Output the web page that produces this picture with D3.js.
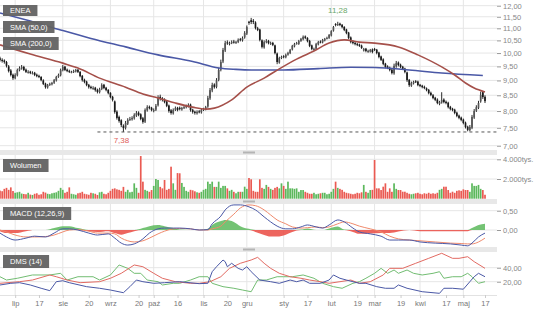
<!DOCTYPE html>
<html>
<head>
<meta charset="utf-8">
<script src="https://cdnjs.cloudflare.com/ajax/libs/d3/7.8.5/d3.min.js"></script>
<style>
  html, body { margin: 0; padding: 0; background: #fff; }
  svg { display: block; font-family: "Liberation Sans", Arial, sans-serif; }
</style>
</head>
<body>
<div class="chart-container"></div>
<script>
/* ---------- dane ---------- */
const firstDay = "2018-06-21";
const lastDay = "2019-05-17";
const holidays = ["2018-08-15", "2018-11-01", "2018-11-12", "2018-12-24", "2018-12-25", "2018-12-26",
                  "2018-12-31", "2019-01-01", "2019-04-19", "2019-04-22", "2019-05-01", "2019-05-03"];

const opens = [9.80,9.74,9.72,9.66,9.50,9.35,9.20,9.08,9.18,9.36,
9.42,9.48,9.38,9.28,9.31,9.25,9.27,9.20,9.16,9.12,
9.00,8.89,8.76,8.85,8.87,8.92,9.00,9.13,9.18,9.36,
9.49,9.38,9.34,9.29,9.30,9.32,9.38,9.30,9.16,9.02,
8.96,8.85,8.78,8.72,8.75,8.68,8.60,8.71,8.85,8.75,
8.68,8.58,8.45,8.30,7.98,7.82,7.72,7.56,7.50,7.62,
7.74,7.75,7.78,7.86,7.95,7.90,7.78,7.68,8.02,8.13,
8.10,8.00,8.04,8.18,8.45,8.40,8.36,8.30,8.17,8.02,
7.93,8.04,8.10,8.10,8.05,8.10,8.12,8.15,8.20,8.04,
7.98,7.93,7.99,7.96,8.04,8.06,8.14,8.40,8.66,8.86,
8.78,9.02,9.38,9.68,10.10,10.42,10.36,10.40,10.45,10.41,
10.44,10.55,10.50,10.62,10.78,11.28,11.35,11.32,11.25,11.00,
10.95,10.50,10.22,10.44,10.48,10.37,10.40,10.30,9.98,9.64,
9.82,9.88,9.84,9.94,10.00,10.14,10.26,10.37,10.36,10.48,
10.55,10.66,10.60,10.48,10.30,10.14,10.17,10.34,10.45,10.42,
10.50,10.58,10.60,10.70,10.90,11.18,11.15,11.20,11.15,11.06,
10.95,10.82,10.62,10.45,10.40,10.36,10.33,10.29,10.10,10.17,
10.06,10.06,10.14,10.16,10.13,10.02,9.87,9.76,9.60,9.50,
9.45,9.38,9.25,9.50,9.64,9.56,9.49,9.42,9.28,9.02,
8.82,8.90,8.97,8.96,8.85,8.82,8.78,8.73,8.68,8.58,
8.50,8.42,8.36,8.22,8.27,8.36,8.29,8.26,8.13,8.07,
8.04,7.95,7.86,7.80,7.74,7.65,7.53,7.43,7.50,7.80,
8.01,8.10,8.30,8.60,8.45];

const highs = [9.86,9.80,9.76,9.70,9.55,9.40,9.24,9.25,9.42,9.50,
9.55,9.52,9.42,9.36,9.34,9.32,9.30,9.24,9.20,9.15,
9.04,8.92,8.88,8.92,8.95,9.05,9.16,9.24,9.42,9.55,
9.52,9.42,9.38,9.34,9.38,9.41,9.40,9.33,9.19,9.06,
8.99,8.88,8.82,8.80,8.78,8.72,8.75,8.90,8.88,8.78,
8.70,8.60,8.48,8.33,8.02,7.86,7.75,7.60,7.70,7.78,
7.82,7.84,7.93,8.00,7.99,7.93,7.82,8.08,8.18,8.17,
8.13,8.08,8.22,8.50,8.52,8.44,8.40,8.33,8.20,8.06,
8.08,8.14,8.13,8.14,8.13,8.16,8.20,8.24,8.23,8.07,
8.01,8.02,8.03,8.07,8.10,8.16,8.48,8.74,8.92,8.90,
9.08,9.45,9.75,10.20,10.48,10.50,10.45,10.50,10.52,10.48,
10.58,10.60,10.66,10.88,11.12,11.32,11.45,11.40,11.30,11.06,
10.98,10.54,10.50,10.55,10.52,10.45,10.44,10.33,10.02,9.86,
9.90,9.92,9.98,10.05,10.16,10.32,10.40,10.44,10.52,10.60,
10.70,10.70,10.63,10.52,10.33,10.21,10.40,10.48,10.50,10.56,
10.60,10.65,10.76,10.92,11.10,11.22,11.28,11.24,11.18,11.09,
10.98,10.85,10.66,10.50,10.44,10.40,10.37,10.33,10.20,10.20,
10.13,10.16,10.18,10.20,10.16,10.05,9.90,9.80,9.63,9.54,
9.49,9.41,9.60,9.70,9.68,9.60,9.52,9.45,9.31,9.05,
8.96,8.99,9.01,8.99,8.88,8.85,8.82,8.76,8.71,8.62,
8.54,8.45,8.40,8.32,8.60,8.40,8.33,8.29,8.16,8.10,
8.07,7.98,7.89,7.83,7.77,7.68,7.56,7.58,7.88,8.06,
8.18,8.32,8.62,8.64,8.50];

const lows = [9.68,9.64,9.60,9.46,9.28,9.14,9.02,9.04,9.14,9.32,
9.38,9.33,9.26,9.24,9.22,9.21,9.15,9.11,9.08,8.97,
8.84,8.72,8.72,8.81,8.83,8.88,8.96,9.09,9.14,9.32,
9.33,9.29,9.26,9.25,9.26,9.28,9.26,9.11,8.96,8.90,
8.80,8.72,8.70,8.68,8.62,8.56,8.56,8.67,8.70,8.63,
8.53,8.40,8.30,7.92,7.74,7.65,7.52,7.38,7.45,7.58,
7.70,7.71,7.74,7.82,7.84,7.72,7.62,7.64,7.98,8.05,
7.99,7.96,8.00,8.14,8.33,8.30,8.24,8.12,7.95,7.89,
7.89,8.00,7.99,8.02,8.01,8.06,8.08,8.11,7.98,7.92,
7.89,7.89,7.93,7.92,8.00,8.02,8.10,8.35,8.60,8.72,
8.73,8.97,9.32,9.62,10.04,10.32,10.30,10.35,10.37,10.36,
10.39,10.46,10.45,10.57,10.72,11.15,11.18,11.18,10.95,10.88,
10.46,10.18,10.17,10.38,10.34,10.32,10.27,9.95,9.58,9.60,
9.77,9.80,9.80,9.90,9.96,10.10,10.22,10.33,10.32,10.44,
10.50,10.55,10.42,10.23,10.11,10.09,10.13,10.30,10.38,10.38,
10.46,10.54,10.56,10.66,10.86,11.08,11.10,11.09,11.00,10.88,
10.75,10.55,10.38,10.34,10.30,10.27,10.24,10.16,10.06,10.03,
10.01,10.02,9.99,10.08,9.95,9.80,9.70,9.54,9.43,9.40,
9.32,9.21,9.20,9.45,9.50,9.44,9.37,9.25,8.95,8.78,
8.78,8.86,8.91,8.80,8.77,8.73,8.70,8.63,8.53,8.47,
8.37,8.31,8.21,8.18,8.23,8.24,8.21,8.08,8.02,7.99,
7.90,7.81,7.75,7.69,7.60,7.48,7.40,7.40,7.46,7.76,
7.97,8.06,8.26,8.38,8.25];

const closes = [9.74,9.70,9.66,9.52,9.33,9.19,9.08,9.19,9.37,9.44,
9.48,9.37,9.30,9.30,9.26,9.26,9.19,9.15,9.12,9.01,
8.88,8.77,8.84,8.88,8.91,9.01,9.12,9.19,9.37,9.48,
9.37,9.33,9.30,9.30,9.33,9.37,9.30,9.15,9.01,8.95,
8.84,8.77,8.74,8.74,8.67,8.61,8.70,8.84,8.74,8.67,
8.57,8.44,8.35,7.97,7.79,7.70,7.58,7.49,7.64,7.73,
7.76,7.79,7.88,7.94,7.88,7.76,7.67,8.03,8.12,8.09,
8.03,8.03,8.16,8.44,8.38,8.35,8.28,8.16,8.00,7.94,
8.03,8.09,8.03,8.06,8.09,8.12,8.16,8.19,8.03,7.97,
7.94,7.97,7.97,8.03,8.06,8.12,8.41,8.67,8.84,8.77,
9.01,9.37,9.66,10.12,10.39,10.39,10.39,10.43,10.43,10.43,
10.52,10.52,10.60,10.80,11.05,11.23,11.27,11.27,11.01,10.93,
10.52,10.24,10.43,10.47,10.39,10.39,10.32,10.00,9.66,9.81,
9.85,9.85,9.93,10.00,10.12,10.28,10.35,10.39,10.47,10.56,
10.64,10.60,10.47,10.28,10.16,10.16,10.35,10.43,10.43,10.52,
10.56,10.60,10.72,10.88,11.05,11.14,11.18,11.14,11.05,10.93,
10.80,10.60,10.43,10.39,10.35,10.32,10.28,10.20,10.16,10.08,
10.08,10.12,10.04,10.12,10.00,9.85,9.74,9.59,9.48,9.44,
9.37,9.26,9.52,9.62,9.55,9.48,9.41,9.30,9.01,8.84,
8.91,8.95,8.95,8.84,8.81,8.77,8.74,8.67,8.57,8.51,
8.41,8.35,8.25,8.28,8.35,8.28,8.25,8.12,8.06,8.03,
7.94,7.85,7.79,7.73,7.64,7.52,7.44,7.52,7.82,8.00,
8.12,8.25,8.51,8.44,8.31];

/* wolumen w tys. */
const volumes = [820,760,1000,1100,900,1150,780,600,650,700,
520,480,450,600,420,380,500,550,400,450,
700,620,500,460,550,600,650,800,1100,900,
600,700,1150,500,450,400,550,600,700,500,
450,400,600,550,500,380,650,700,500,450,
600,800,1000,1050,950,900,800,1200,700,900,
650,700,1560,1100,600,4330,1730,900,800,700,
880,1300,2000,1900,1200,1050,1900,900,1000,3250,
1560,900,2600,2580,1600,1200,800,700,900,850,
750,650,600,700,900,1000,1730,1500,1730,1200,
1200,1730,1100,1300,1300,1050,800,900,700,550,
700,700,700,1220,1000,2100,1970,800,700,700,
1970,1100,1000,1400,1200,1000,900,1100,1200,1050,
1560,1300,1000,1730,1050,1050,1000,1050,700,880,
880,700,600,500,500,600,450,500,550,600,
600,450,500,700,1000,1730,1100,1000,900,700,
600,550,500,450,500,600,550,650,1400,700,
600,880,900,3930,1050,1050,880,1220,1560,700,
1050,700,1560,1000,880,880,711,711,600,500,
450,500,550,600,500,450,550,500,600,500,
550,500,600,900,1000,1218,1218,880,600,711,
600,800,850,800,950,880,883,700,1560,1300,
1300,1400,1000,880,400];

/* wskaźniki: [numer sesji, wartość] */
const sma50 = [[0,10.32],[14,9.96],[29,9.62],[36,9.44],[46,9.08],[58,8.77],[66,8.54],[73,8.41],[81,8.25],
  [89,8.12],[95,8.06],[99,8.09],[107,8.35],[114,8.77],[122,9.08],[129,9.41],[137,9.77],[145,10.08],
  [152,10.39],[159,10.52],[166,10.43],[173,10.39],[184,10.24],[193,9.93],[204,9.48],[210,9.19],
  [215,8.91],[219,8.74],[224,8.61]];
const sma200 = [[0,11.67],[14,11.31],[28,10.93],[42,10.58],[58,10.24],[73,9.93],[89,9.68],[101,9.44],
  [109,9.39],[116,9.37],[131,9.37],[147,9.42],[162,9.47],[173,9.46],[189,9.37],[204,9.26],[223,9.17]];

const macdLine = [[0,-0.08],[3,-0.18],[7,-0.26],[12,-0.21],[16,-0.16],[21,-0.18],[25,-0.08],[29,0.03],
  [32,0.03],[36,0.00],[41,-0.08],[45,-0.13],[50,-0.10],[53,-0.21],[56,-0.34],[59,-0.39],[62,-0.36],
  [66,-0.23],[69,-0.08],[73,0.03],[76,0.05],[80,0.05],[83,0.05],[88,0.03],[92,0.00],[96,0.01],
  [98,0.16],[102,0.36],[104,0.52],[108,0.65],[111,0.65],[115,0.60],[118,0.52],[122,0.34],[125,0.21],
  [128,0.10],[132,0.03],[135,0.03],[139,0.08],[142,0.13],[146,0.08],[149,0.05],[152,0.13],[156,0.26],
  [159,0.21],[163,0.05],[166,-0.05],[171,-0.10],[176,-0.16],[180,-0.26],[184,-0.26],[189,-0.26],
  [194,-0.31],[201,-0.34],[208,-0.36],[213,-0.39],[216,-0.41],[218,-0.34],[221,-0.18],[224,-0.08]];
const macdSignal = [[0,0.00],[3,-0.05],[7,-0.13],[12,-0.18],[16,-0.18],[21,-0.17],[25,-0.13],[29,-0.05],
  [32,0.00],[36,0.01],[41,-0.03],[45,-0.08],[50,-0.08],[53,-0.10],[56,-0.21],[59,-0.28],[62,-0.31],
  [66,-0.28],[69,-0.21],[73,-0.10],[76,-0.03],[80,0.03],[83,0.04],[88,0.03],[92,0.00],[96,0.00],
  [98,0.03],[102,0.10],[104,0.21],[108,0.41],[111,0.57],[115,0.65],[118,0.63],[122,0.52],[125,0.39],
  [128,0.26],[132,0.16],[135,0.08],[139,0.05],[142,0.06],[146,0.08],[149,0.06],[152,0.08],[156,0.16],
  [159,0.21],[163,0.16],[166,0.10],[171,0.03],[176,-0.05],[180,-0.16],[184,-0.23],[189,-0.26],
  [194,-0.28],[201,-0.31],[208,-0.34],[213,-0.35],[216,-0.36],[218,-0.36],[221,-0.31],[224,-0.21]];
const macdHist = [[0,-0.03],[3,-0.08],[7,-0.08],[12,-0.03],[16,0.00],[21,0.00],[25,0.05],[29,0.10],
  [32,0.10],[36,0.05],[41,-0.03],[45,-0.05],[50,-0.03],[53,-0.08],[56,-0.12],[59,-0.08],[62,-0.03],
  [66,0.05],[69,0.10],[73,0.13],[76,0.10],[80,0.05],[83,0.01],[88,0.00],[92,0.00],[96,0.03],
  [98,0.13],[102,0.23],[104,0.26],[108,0.21],[111,0.10],[115,0.03],[118,-0.05],[122,-0.13],[125,-0.17],
  [128,-0.17],[132,-0.12],[135,-0.05],[139,0.01],[142,0.04],[146,0.00],[149,0.00],[152,0.04],[156,0.09],
  [159,0.01],[163,-0.05],[166,-0.10],[171,-0.09],[176,-0.08],[180,-0.08],[184,-0.04],[189,0.00],
  [194,-0.03],[201,-0.03],[208,-0.03],[213,-0.03],[216,-0.03],[218,0.05],[221,0.13],[224,0.16]];

const plusDI = [[0,15.3],[5,17.7],[9,18.6],[14,15.3],[19,10.6],[23,7.2],[26,20],[29,21.4],[32,18.6],
  [40,12.9],[46,10.6],[51,8.1],[57,4.3],[60,12.9],[63,22.4],[66,20],[71,17.7],[76,18.6],[83,20],
  [92,17.2],[96,17.7],[98,34.3],[100,41.4],[103,51],[104,48.6],[105,41.4],[107,46.3],[110,39.1],
  [112,36.7],[114,41.4],[116,34.3],[120,22.4],[125,20],[129,17.7],[134,22.4],[137,20],[140,22.4],
  [143,17.7],[148,17.7],[152,22.4],[154,29.6],[157,24.9],[160,22.4],[163,20],[166,17.7],[169,17.7],
  [174,12.9],[178,10.6],[182,10.6],[184,15.3],[188,10.6],[195,5.7],[203,3.4],[205,10.6],[209,10.6],
  [214,9.3],[217,20],[219,27.1],[221,32],[224,27.1]];
const minusDI = [[0,27.1],[3,22.4],[8,24.9],[15,29.6],[23,29.6],[28,32],[31,22.4],[36,27.1],[43,27.1],
  [46,22.4],[51,29.6],[55,43.9],[59,39.1],[62,32],[65,32],[68,22.4],[73,20],[75,15.3],[80,17.7],
  [83,17.7],[88,22.4],[92,27.1],[96,27.1],[98,17.7],[103,12.9],[108,10.6],[112,8.1],[116,5.7],
  [119,22.4],[123,22.4],[128,27.1],[131,27.1],[135,27.1],[140,29.6],[145,24.9],[149,17.7],[154,12.9],
  [158,10.6],[163,17.7],[166,20],[169,24.9],[173,32],[176,39.1],[179,32],[182,36.7],[184,32],
  [188,36.7],[191,32],[195,29.6],[200,32],[203,34.3],[205,24.9],[209,27.1],[213,27.1],[216,32],
  [218,27.1],[221,17.7],[224,20]];
const adx = [[0,17.7],[9,20],[15,22.4],[23,29.6],[26,27.1],[31,22.4],[37,18.6],[46,20],[51,24.9],
  [56,32],[62,43.9],[66,41.4],[71,32],[75,24.9],[81,20],[88,17.7],[92,17.7],[97,20],[102,27.1],
  [106,39.1],[111,46.3],[116,51],[119,54.8],[122,46.3],[125,39.1],[129,32],[134,27.1],[139,24.9],
  [143,22.4],[148,20],[152,17.7],[157,20],[162,22.4],[166,17.7],[171,20],[177,29.6],[180,39.1],
  [186,39.1],[192,46.3],[198,53.4],[204,60.6],[209,53.4],[212,53.4],[216,55.7],[219,48.6],[224,39.1]];

/* linia wsparcia i opisane ekstrema */
const supportValue = 7.38, supportFrom = 45;
const minMark = [57, 7.38];
const maxMark = [156, 11.28];

/* osie */
const priceTicks = [7, 7.5, 8, 8.5, 9, 9.5, 10, 10.5, 11, 11.5, 12];
const volumeTicks = [2000, 4000];
const macdTicks = [0, 0.5];
const dmsTicks = [20, 40];
const dateTicks = [["2018-07-02","lip"],["2018-07-17","17"],["2018-08-01","sie"],["2018-08-20","20"],
  ["2018-09-03","wrz"],["2018-09-20","20"],["2018-10-01","paź"],["2018-10-16","16"],["2018-11-02","lis"],
  ["2018-11-20","20"],["2018-12-03","gru"],["2019-01-02","sty"],["2019-01-17","17"],["2019-02-01","lut"],
  ["2019-02-19","19"],["2019-03-01","mar"],["2019-03-19","19"],["2019-04-01","kwi"],["2019-04-17","17"],
  ["2019-05-02","maj"],["2019-05-17","17"]];
const monthTicks = ["2018-07-02","2018-08-01","2018-09-03","2018-10-01","2018-11-02","2018-12-03",
  "2019-01-02","2019-02-01","2019-03-01","2019-04-01","2019-05-02"];

/* ---------- rysowanie ---------- */
const svg_width = 536;
const svg_height = 311;
const plot_right = 497;
const panels = {
  main: [0, 150],
  vol: [155, 199],
  macd: [204, 247],
  dms: [252, 295]
};

const parseDay = d3.timeParse("%Y-%m-%d");
const fmtDay = d3.timeFormat("%Y-%m-%d");
const dayKeys = d3.timeDay.range(parseDay(firstDay), d3.timeDay.offset(parseDay(lastDay), 1))
  .filter(d => d.getDay() !== 0 && d.getDay() !== 6)
  .map(fmtDay)
  .filter(k => !holidays.includes(k));

const days = dayKeys.map((k, i) => ({
  key: k, open: opens[i], high: highs[i], low: lows[i], close: closes[i], volume: volumes[i]
})).filter(d => d.close !== undefined);

const svg = d3.select(".chart-container").append("svg")
  .attr("width", svg_width).attr("height", svg_height);

/* skale */
const x = d3.scalePoint().domain(dayKeys).range([0, 485]);
const xi = i => x(dayKeys[i]);
const yPrice = d3.scaleLog().domain([7, 12]).range([145.7, 5.7]);
const yVol = d3.scaleLinear().domain([0, 4000]).range([198.7, 159.3]);
const yMacd = d3.scaleLinear().domain([0, 0.5]).range([230, 210.7]);
const yDms = d3.scaleLinear().domain([20, 40]).range([281.7, 267.7]);

const comma = v => d3.format(".2f")(v).replace(".", ",");
const tys = v => d3.format(",")(v).replace(/,/g, ".") + "tys.";

/* clip paths */
const defs = svg.append("defs");
Object.entries(panels).forEach(([name, [t, b]]) => {
  defs.append("clipPath").attr("id", `clip-${name}`)
    .append("rect").attr("x", 0).attr("y", t).attr("width", plot_right).attr("height", b - t);
});

/* siatka pionowa */
const grid = svg.append("g").attr("class", "grid");
Object.values(panels).forEach(([t, b]) => {
  grid.append("g").selectAll("line").data(monthTicks).join("line")
    .attr("x1", d => x(d)).attr("x2", d => x(d))
    .attr("y1", t).attr("y2", b)
    .attr("stroke", "#e6e6e6").attr("stroke-width", 1);
});

/* siatka pozioma + osie po prawej */
function rightAxis(scale, ticks, fmt, panel) {
  grid.append("g").selectAll("line").data(ticks).join("line")
    .attr("x1", 0).attr("x2", plot_right)
    .attr("y1", d => scale(d)).attr("y2", d => scale(d))
    .attr("stroke", "#e6e6e6").attr("stroke-width", 1);
  const ax = svg.append("g").attr("class", `y axis ${panel}`)
    .attr("transform", `translate(${plot_right},0)`)
    .call(d3.axisRight(scale).tickValues(ticks).tickFormat(fmt).tickSize(4).tickPadding(2));
  ax.select(".domain").remove();
  ax.selectAll("line").attr("stroke", "#999");
  ax.selectAll("text").attr("fill", "#888").style("font-size", "7.5px").style("font-family", "Liberation Sans, Arial, sans-serif");
}
rightAxis(yPrice, priceTicks, comma, "main");
rightAxis(yVol, volumeTicks, tys, "vol");
rightAxis(yMacd, macdTicks, comma, "macd");
rightAxis(yDms, dmsTicks, comma, "dms");

/* świece */
const candleGroup = svg.append("g").attr("class", "candles").attr("clip-path", "url(#clip-main)");
candleGroup.selectAll("line").data(days).join("line")
  .attr("x1", d => x(d.key)).attr("x2", d => x(d.key))
  .attr("y1", d => yPrice(d.high)).attr("y2", d => yPrice(d.low))
  .attr("stroke", "#2a2a2a").attr("stroke-width", 1);
candleGroup.selectAll("rect").data(days).join("rect")
  .attr("x", d => x(d.key) - 0.85).attr("width", 1.7)
  .attr("y", d => yPrice(Math.max(d.open, d.close)))
  .attr("height", d => Math.max(1, Math.abs(yPrice(d.open) - yPrice(d.close))))
  .attr("fill", d => d.close >= d.open ? "#555" : "#1a1a1a");

/* średnie */
const priceLine = d3.line().x(d => xi(d[0])).y(d => yPrice(d[1])).curve(d3.curveMonotoneX);
const maGroup = svg.append("g").attr("class", "ma").attr("clip-path", "url(#clip-main)");
maGroup.append("path").attr("d", priceLine(sma200))
  .attr("fill", "none").attr("stroke", "#4a58a6").attr("stroke-width", 1.6);
maGroup.append("path").attr("d", priceLine(sma50))
  .attr("fill", "none").attr("stroke", "#a5504a").attr("stroke-width", 1.6);

/* linia wsparcia */
svg.append("line")
  .attr("x1", xi(supportFrom)).attr("x2", plot_right)
  .attr("y1", yPrice(supportValue)).attr("y2", yPrice(supportValue))
  .attr("stroke", "#555").attr("stroke-width", 1).attr("stroke-dasharray", "3,3");
svg.append("text").attr("x", xi(minMark[0]) - 2).attr("y", yPrice(minMark[1]) + 11)
  .attr("text-anchor", "middle").attr("fill", "#e0605a").style("font-size", "8px")
  .text(comma(minMark[1]));
svg.append("text").attr("x", xi(maxMark[0])).attr("y", yPrice(maxMark[1]) - 9)
  .attr("text-anchor", "middle").attr("fill", "#6aa86a").style("font-size", "8px")
  .text(comma(maxMark[1]));

/* wolumen */
const volColor = d => d.close > d.open ? "#5cb85c" : (d.close < d.open ? "#ea5a52" : "#333");
svg.append("g").attr("class", "volume").attr("clip-path", "url(#clip-vol)")
  .selectAll("rect").data(days).join("rect")
  .attr("x", d => x(d.key) - 0.85).attr("width", 1.7)
  .attr("y", d => yVol(d.volume))
  .attr("height", d => yVol(0) - yVol(d.volume))
  .attr("fill", volColor);

/* MACD */
const macdGroup = svg.append("g").attr("class", "macd").attr("clip-path", "url(#clip-macd)");
const histArea = sign => d3.area().x(d => xi(d[0])).y0(yMacd(0))
  .y1(d => yMacd(sign > 0 ? Math.max(0, d[1]) : Math.min(0, d[1]))).curve(d3.curveMonotoneX);
macdGroup.append("path").attr("d", histArea(1)(macdHist)).attr("fill", "#5cb85c").attr("opacity", 0.85);
macdGroup.append("path").attr("d", histArea(-1)(macdHist)).attr("fill", "#ea4a42").attr("opacity", 0.85);
const macdGen = d3.line().x(d => xi(d[0])).y(d => yMacd(d[1])).curve(d3.curveMonotoneX);
macdGroup.append("path").attr("d", macdGen(macdSignal))
  .attr("fill", "none").attr("stroke", "#f08a6c").attr("stroke-width", 1);
macdGroup.append("path").attr("d", macdGen(macdLine))
  .attr("fill", "none").attr("stroke", "#4a58a6").attr("stroke-width", 1);

/* DMS */
const dmsGroup = svg.append("g").attr("class", "dms").attr("clip-path", "url(#clip-dms)");
const dmsGen = d3.line().x(d => xi(d[0])).y(d => yDms(d[1]));
[[minusDI, "#72bd72"], [adx, "#e26a62"], [plusDI, "#4a58a6"]].forEach(([s, c]) => {
  dmsGroup.append("path").attr("d", dmsGen(s))
    .attr("fill", "none").attr("stroke", c).attr("stroke-width", 1);
});

/* separatory paneli */
const seps = [[150, 155], [199, 204], [247, 252]];
seps.forEach(([t, b]) => {
  svg.append("rect").attr("x", 0).attr("y", t).attr("width", plot_right).attr("height", b - t)
    .attr("fill", "#e8e8e8");
  svg.append("rect").attr("x", 243).attr("y", t + 1.5).attr("width", 12).attr("height", 2)
    .attr("fill", "#b4b4b4");
});
svg.append("line").attr("x1", 0).attr("x2", plot_right).attr("y1", 295.5).attr("y2", 295.5)
  .attr("stroke", "#e2e2e2");

/* oś X */
const xAxis = svg.append("g").attr("class", "x axis")
  .attr("transform", `translate(0,${panels.dms[1]})`)
  .call(d3.axisBottom(x).tickValues(dateTicks.map(d => d[0]))
    .tickFormat(k => dateTicks.find(d => d[0] === k)[1]).tickSize(3).tickPadding(3));
xAxis.select(".domain").remove();
xAxis.selectAll("line").attr("stroke", "#ccc");
xAxis.selectAll("text").attr("fill", "#777").style("font-size", "7.5px")
  .style("font-family", "Liberation Sans, Arial, sans-serif");

/* etykiety paneli */
const labels = [["ENEA", 5, 11], ["SMA (50,0)", 21, 12], ["SMA (200,0)", 37, 13],
                ["Wolumen", 159, 13], ["MACD (12,26,9)", 207, 13], ["DMS (14)", 255, 13]];
labels.forEach(([txt, top, h]) => {
  const g = svg.append("g").attr("class", "label");
  const rect = g.append("rect").attr("x", 3).attr("y", top).attr("height", h)
    .attr("fill", "#626262").attr("opacity", 0.95);
  const t = g.append("text").attr("x", 10).attr("y", top + h / 2 + 2.7)
    .attr("fill", "#fff").style("font-size", "7.5px").text(txt);
  rect.attr("width", t.node().getComputedTextLength() + 14);
});
</script>
</body>
</html>
